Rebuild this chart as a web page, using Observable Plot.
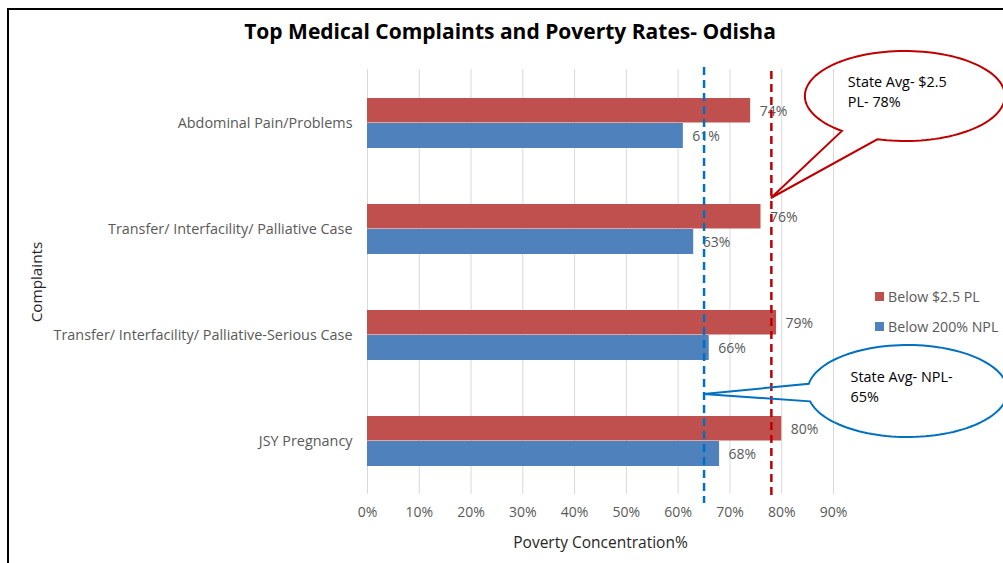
<!DOCTYPE html>
<html>
<head>
<meta charset="utf-8">
<script src="https://cdn.jsdelivr.net/npm/d3@7"></script>
<script src="https://cdn.jsdelivr.net/npm/@observablehq/plot@0.6"></script>
<style>
  html, body { margin: 0; padding: 0; background: #fff; }
  #wrap { position: relative; width: 1003px; height: 563px; overflow: hidden; font-family: "Open Sans", Lato, sans-serif; }
  #frame { position: absolute; left: 7px; top: 8px; width: 1100px; height: 700px; border-left: 2px solid #000; border-top: 2px solid #000; }
  #title { position: absolute; left: 0; top: 17px; width: 1020px; text-align: center; font-size: 21px; font-weight: bold; color: #000; }
  #chart { position: absolute; left: 0; top: 0; }
  #legend { position: absolute; left: 875px; top: 281px; font-size: 14.2px; color: #595959; }
  #legend .item { display: flex; align-items: center; height: 30px; }
  #legend .sw { width: 9px; height: 9px; margin-right: 4px; }
</style>
</head>
<body>
<div id="wrap">
  <div id="frame"></div>
  <div id="chart"></div>
  <div id="title"></div>
  <div id="legend"></div>
</div>
<script>
// ---- data ----
const chartTitle = "Top Medical Complaints and Poverty Rates- Odisha";
const categories = [
  "Abdominal Pain/Problems",
  "Transfer/ Interfacility/ Palliative Case",
  "Transfer/ Interfacility/ Palliative-Serious Case",
  "JSY Pregnancy"
];
const seriesNames = ["Below $2.5 PL", "Below 200% NPL"];
const plValues = [74, 76, 79, 80];   // Below $2.5 PL
const nplValues = [61, 63, 66, 68];  // Below 200% NPL
const xTicks = [0, 10, 20, 30, 40, 50, 60, 70, 80, 90];
const stateAvgPL = 78;
const stateAvgNPL = 65;
const calloutPL = ["State Avg- $2.5", "PL- 78%"];
const calloutNPL = ["State Avg- NPL-", "65%"];
const xTitle = "Poverty Concentration%";
const yTitle = "Complaints";
const seriesColors = ["#C0504D", "#4F81BD"];
const FONT = "'Open Sans', Lato, sans-serif";

// ---- tables ----
const plRows = categories.map((c, i) => ({cat: c, v: plValues[i]}));
const nplRows = categories.map((c, i) => ({cat: c, v: nplValues[i]}));

document.getElementById("title").textContent = chartTitle;
const leg = document.getElementById("legend");
seriesNames.forEach((s, i) => {
  const it = document.createElement("div"); it.className = "item";
  const sw = document.createElement("div"); sw.className = "sw"; sw.style.background = seriesColors[i];
  const tx = document.createElement("span"); tx.textContent = s;
  it.appendChild(sw); it.appendChild(tx); leg.appendChild(it);
});

function bubble(tip, center, rx, ry, t1, t2, color, lines) {
  const pts = [];
  let a = t1, b = t2 + 360;
  if (t2 > t1) { b = t2; }
  const n = 120;
  for (let k = 0; k <= n; k++) {
    const t = (a + (b - a) * k / n) * Math.PI / 180;
    pts.push([center[0] + rx * Math.cos(t), center[1] + ry * Math.sin(t)]);
  }
  pts.push(tip);
  const g = d3.create("svg:g");
  g.append("path")
    .attr("d", d3.line()(pts) + "Z")
    .attr("fill", "none").attr("stroke", color).attr("stroke-width", 2)
    .attr("stroke-linejoin", "miter");
  const tg = g.append("text").attr("font-size", 14.4).attr("fill", "#000")
    .attr("text-anchor", "start")
    .attr("font-family", FONT);
  lines.forEach((l, i) => {
    tg.append("tspan").attr("x", center[0] - 57).attr("y", center[1] - 9 + i * 20).text(l);
  });
  return g.node();
}

const callouts = (index, scales) => {
  const x = scales.x, y = scales.y;
  const g = d3.create("svg:g");
  const tipR = [x(stateAvgPL), y(categories[1]) - 6];
  g.node().appendChild(bubble(tipR, [tipR[0] + 134, tipR[1] - 102], 100, 45, 129, 106, "#C00000", calloutPL));
  const tipB = [x(stateAvgNPL), y(categories[3]) - 22];
  g.node().appendChild(bubble(tipB, [tipB[0] + 204, tipB[1] - 3], 100, 46, 189, 167, "#0070C0", calloutNPL));
  return g.node();
};

const plot = Plot.plot({
  width: 1003,
  height: 563,
  marginLeft: 367,
  marginRight: 170,
  marginTop: 69,
  marginBottom: 69,
  style: {fontFamily: FONT, fontSize: "14px", color: "#595959", background: "transparent"},
  x: {domain: [0, 90]},
  y: {domain: categories, paddingInner: 0.53, paddingOuter: 0.265},
  marks: [
    Plot.gridX(xTicks, {stroke: "#d9d9d9", strokeOpacity: 1}),
    Plot.barX(plRows, {x: "v", y: "cat", fill: seriesColors[0], insetBottom: 25.5, insetTop: 0}),
    Plot.barX(nplRows, {x: "v", y: "cat", fill: seriesColors[1], insetTop: 25, insetBottom: 0}),
    Plot.text(plRows, {x: "v", y: "cat", text: d => d.v + "%", dy: -12, dx: 9, textAnchor: "start", fill: "#595959", fontSize: 14}),
    Plot.text(nplRows, {x: "v", y: "cat", text: d => d.v + "%", dy: 13, dx: 9, textAnchor: "start", fill: "#595959", fontSize: 14}),
    Plot.ruleX([stateAvgNPL], {stroke: "#0070C0", strokeWidth: 2.5, strokeDasharray: "8,5", insetTop: -2, insetBottom: -9}),
    Plot.ruleX([stateAvgPL], {stroke: "#C00000", strokeWidth: 2.5, strokeDasharray: "8,5", insetTop: 2, insetBottom: -5}),
    Plot.axisX(xTicks, {tickSize: 0, tickPadding: 13, tickFormat: d => d + "%", label: null, fill: "#595959", fontSize: 14}),
    Plot.axisY({tickSize: 0, tickPadding: 15, label: null, fill: "#595959", fontSize: 14.4}),
    Plot.text([xTitle], {frameAnchor: "bottom", dy: 49, text: d => d, fill: "#262626", fontSize: 15.5, lineAnchor: "middle"}),
    Plot.text([yTitle], {frameAnchor: "left", dx: -330, rotate: -90, text: d => d, fill: "#262626", fontSize: 15.3, lineAnchor: "middle", textAnchor: "middle"}),
    callouts
  ]
});
document.getElementById("chart").appendChild(plot);
</script>
</body>
</html>
